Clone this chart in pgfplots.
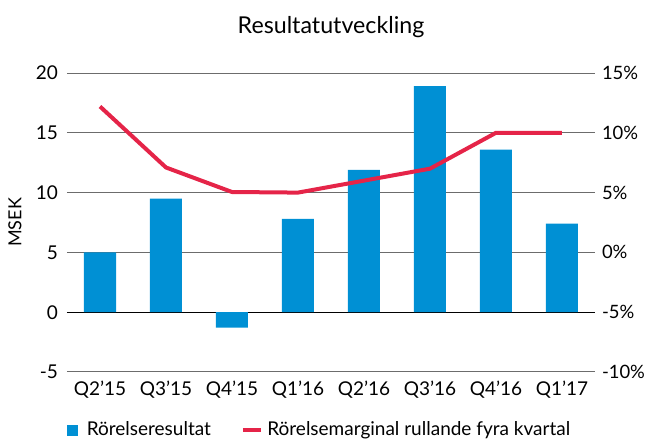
\documentclass[border=0pt]{standalone}
\usepackage{pgfplots}
\pgfplotsset{compat=1.18}
\usepackage{fontspec}
\setmainfont{Lato}
\definecolor{barblue}{RGB}{0,144,212}
\definecolor{linered}{RGB}{229,36,72}
\begin{document}
\begin{tikzpicture}
\path[use as bounding box] (0,0) rectangle (322.5pt,220pt);
\begin{axis}[
  at={(33.5pt,34pt)}, anchor=south west,
  scale only axis, width=264pt, height=149.5pt,
  xmin=-0.5, xmax=7.5, ymin=-5, ymax=20,
  ytick={-5,0,5,10,15,20},
  xtick={0,1,2,3,4,5,6,7},
  xticklabels={Q2’15,Q3’15,Q4’15,Q1’16,Q2’16,Q3’16,Q4’16,Q1’17},
  axis x line*=bottom, axis y line*=left,
  axis line style={draw=none},
  major tick length=0pt,
  ymajorgrids, grid style={gray!85!black, line width=0.5pt},
  tick label style={font=\fontsize{9.5}{11}\selectfont},
  /pgf/number format/assume math mode=true,
  yticklabel style={xshift=-1pt},
  xticklabel style={yshift=-1pt},
  ylabel={MSEK}, ylabel style={font=\fontsize{9}{11}\selectfont, at={(rel axis cs:-0.0985,0.5)}, anchor=center},
  title={Resultatutveckling}, title style={font=\fontsize{11.6}{13}\selectfont, yshift=8pt},
  legend style={draw=none, at={(0,-0.194)}, anchor=west, legend columns=2,
    inner xsep=0pt, inner ysep=0pt,
    nodes={inner xsep=0pt},
    font=\fontsize{9.5}{11}\selectfont},
]
\addlegendimage{area legend, legend image code/.code={\fill[barblue] (0pt,-2.5pt) rectangle (4.8pt,2.5pt); \path (9.3pt,0pt);}}
\addlegendentry{Rörelseresultat\rule{15pt}{0pt}}
\addlegendimage{legend image code/.code={\draw[linered, line width=2pt] (0pt,0pt) -- (9pt,0pt); \path (12pt,0pt);}}
\addlegendentry{Rörelsemarginal rullande fyra kvartal}
\draw[black, line width=0.6pt] (axis cs:-0.5,0) -- (axis cs:7.5,0);
\addplot[ybar, bar width=0.485, fill=barblue, draw=none, forget plot] coordinates {
(0,5.0) (1,9.5) (2,-1.3) (3,7.8) (4,11.9) (5,18.9) (6,13.6) (7,7.4)};
\end{axis}
\begin{axis}[
  at={(33.5pt,34pt)}, anchor=south west,
  scale only axis, width=264pt, height=149.5pt,
  xmin=-0.5, xmax=7.5, ymin=-10, ymax=15,
  ytick={-10,-5,0,5,10,15},
  yticklabel={\pgfmathprintnumber{\tick}\%},
  axis y line*=right, axis x line=none,
  axis line style={draw=none},
  major tick length=0pt,
  tick label style={font=\fontsize{9.2}{11}\selectfont},
  /pgf/number format/assume math mode=true,
  yticklabel style={xshift=0pt},
]
\addplot[linered, line width=2pt, line join=round] coordinates {
(0,12.2) (1,7.1) (2,5.05) (3,5.0) (4,6.0) (5,7.0) (6,10.0) (7,10.0)};
\end{axis}
\end{tikzpicture}
\end{document}
